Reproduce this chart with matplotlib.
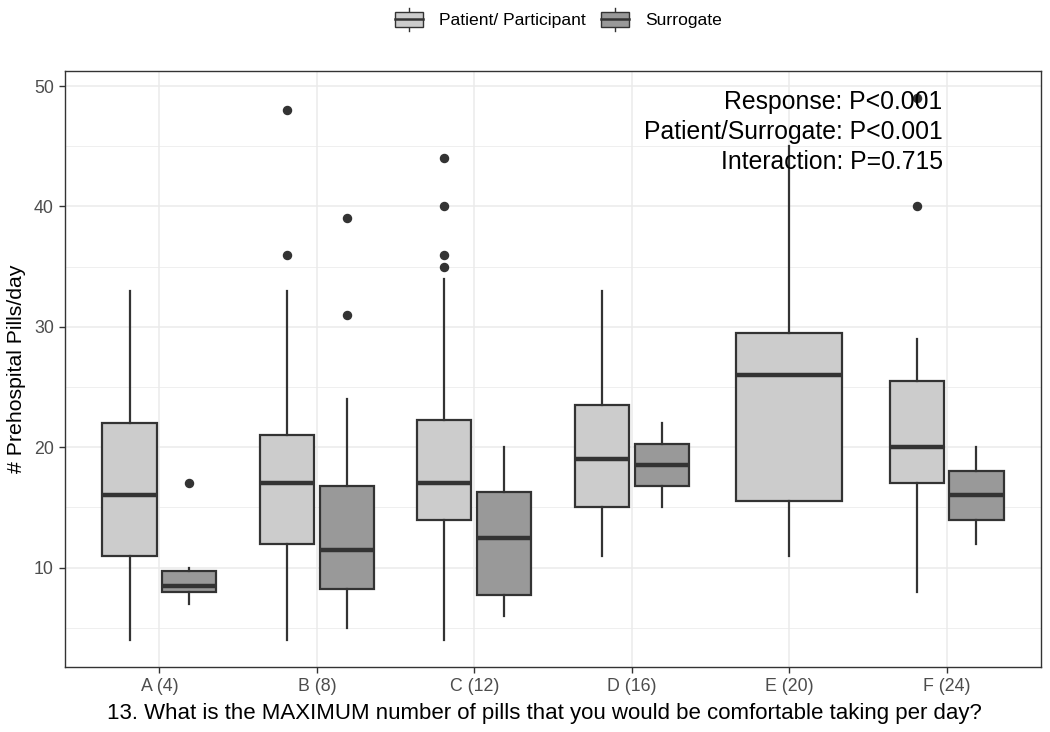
import matplotlib
matplotlib.use("Agg")
import matplotlib.pyplot as plt
from matplotlib.patches import Rectangle, Patch
from matplotlib.lines import Line2D
from matplotlib.legend_handler import HandlerBase

plt.rcParams['font.family'] = ['Liberation Sans', 'DejaVu Sans']

# ---------------- data ----------------
categories = ["A (4)", "B (8)", "C (12)", "D (16)", "E (20)", "F (24)"]
groups = ["Patient/ Participant", "Surrogate"]

pat_whislo = [4, 4, 4, 11, 11, 8]
pat_q1 = [11, 12, 14, 15, 15.5, 17]
pat_med = [16, 17, 17, 19, 26, 20]
pat_q3 = [22, 21, 22.25, 23.5, 29.5, 25.5]
pat_whishi = [33, 33, 34, 33, 45, 29]
pat_fliers = [[], [36, 48], [35, 36, 40, 44], [], [], [40, 49]]

sur_whislo = [7, 5, 6, 15, None, 12]
sur_q1 = [8, 8.25, 7.75, 16.75, None, 14]
sur_med = [8.5, 11.5, 12.5, 18.5, None, 16]
sur_q3 = [9.75, 16.75, 16.25, 20.25, None, 18]
sur_whishi = [10, 24, 20, 22, None, 20]
sur_fliers = [[17], [31, 39], [], [], None, []]

annotation_lines = ["Response: P<0.001", "Patient/Surrogate: P<0.001", "Interaction: P=0.715"]
x_title = "13. What is the MAXIMUM number of pills that you would be comfortable taking per day?"
y_title = "# Prehospital Pills/day"

# ---------------- style ----------------
PAT_FILL = "#cccccc"
SUR_FILL = "#999999"
EDGE = "#333333"
GRID = "#ebebeb"
OFFSET = 0.19
W_PAIR = 0.344
W_SINGLE = 0.677

fig = plt.figure(figsize=(10.5, 7.32), dpi=100)
ax = fig.add_axes([65 / 1050, 1 - 667 / 732, 976 / 1050, 596 / 732])

stats, positions, widths, fills = [], [], [], []
for i in range(len(categories)):
    x = i + 1
    has_sur = sur_med[i] is not None
    stats.append(dict(med=pat_med[i], q1=pat_q1[i], q3=pat_q3[i],
                      whislo=pat_whislo[i], whishi=pat_whishi[i],
                      fliers=pat_fliers[i]))
    positions.append(x - OFFSET if has_sur else x)
    widths.append(W_PAIR if has_sur else W_SINGLE)
    fills.append(PAT_FILL)
    if has_sur:
        stats.append(dict(med=sur_med[i], q1=sur_q1[i], q3=sur_q3[i],
                          whislo=sur_whislo[i], whishi=sur_whishi[i],
                          fliers=sur_fliers[i]))
        positions.append(x + OFFSET)
        widths.append(W_PAIR)
        fills.append(SUR_FILL)

bp = ax.bxp(stats, positions=positions, widths=widths, patch_artist=True,
            showcaps=False, manage_ticks=False,
            boxprops=dict(edgecolor=EDGE, linewidth=1.6),
            medianprops=dict(color=EDGE, linewidth=3.2, solid_capstyle='butt'),
            whiskerprops=dict(color=EDGE, linewidth=1.6),
            flierprops=dict(marker='o', markerfacecolor=EDGE, markeredgecolor=EDGE,
                            markersize=5.8, linestyle='none'),
            zorder=3)
for patch, fc in zip(bp['boxes'], fills):
    patch.set_facecolor(fc)

ax.set_xlim(0.4, 6.6)
ax.set_ylim(1.75, 51.25)
ax.set_xticks(range(1, len(categories) + 1))
ax.set_xticklabels(categories)
ax.set_yticks([10, 20, 30, 40, 50])
ax.set_yticks([5, 15, 25, 35, 45], minor=True)
ax.grid(True, which='major', color=GRID, linewidth=1.1, zorder=0)
ax.grid(True, which='minor', axis='y', color=GRID, linewidth=0.55, zorder=0)
ax.set_axisbelow(True)
for s in ax.spines.values():
    s.set_color(EDGE)
    s.set_linewidth(1.0)
ax.tick_params(axis='both', which='major', length=4, width=1.0, color=EDGE,
               labelcolor="#4d4d4d", labelsize=12.8, pad=4)
ax.tick_params(axis='y', which='minor', length=0)

ax.set_xlabel(x_title, fontsize=16, color='black', labelpad=6)
ax.xaxis.label.set_x(0.491)
ax.set_ylabel(y_title, fontsize=15.3, color='black', labelpad=6)

ax.text(5.975, 43.15, "\n".join(annotation_lines), ha='right', va='baseline',
        fontsize=17.8, color='black', linespacing=1.31, zorder=5)


class BoxKeyHandler(HandlerBase):
    def create_artists(self, legend, orig_handle, xdescent, ydescent,
                       width, height, fontsize, trans):
        fc = orig_handle.get_facecolor()
        x0 = -xdescent
        y0 = -ydescent
        bh = height * 0.66
        by = y0 + (height - bh) / 2
        cx = x0 + width / 2
        wl = Line2D([cx, cx], [y0, y0 + height], color=EDGE, lw=1.0, transform=trans)
        r = Rectangle((x0, by), width, bh, facecolor=fc, edgecolor=EDGE,
                      lw=1.0, transform=trans)
        m = Line2D([x0, x0 + width], [by + bh / 2] * 2, color=EDGE, lw=1.8,
                   transform=trans)
        return [wl, r, m]


handles = [Patch(facecolor=PAT_FILL), Patch(facecolor=SUR_FILL)]
fig.legend(handles, groups, loc='center', bbox_to_anchor=(0.532, 0.9734),
           ncol=2, frameon=False, fontsize=12.6, handlelength=1.6,
           handleheight=1.7, handletextpad=0.9, columnspacing=0.9,
           handler_map={Patch: BoxKeyHandler()})

fig.savefig("out.png", dpi=100)
